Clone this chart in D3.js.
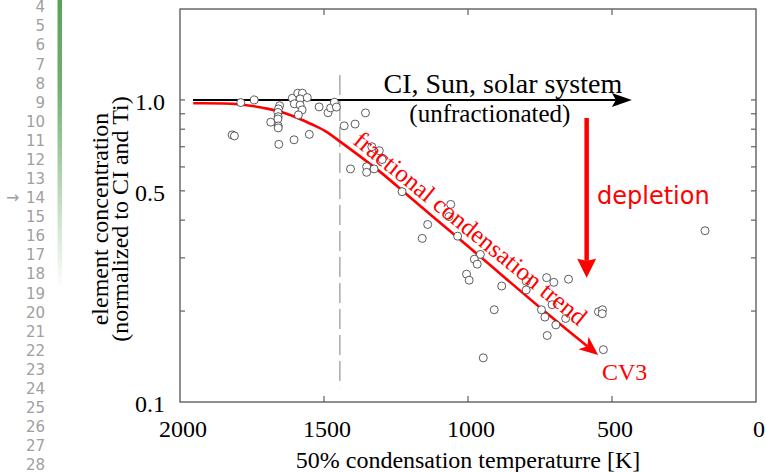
<!DOCTYPE html>
<meta charset="utf-8">
<style>
body { margin: 0; background: #fff; }
svg { display: block; }
.serif { font-family: "Liberation Serif", "Times New Roman", serif; }
.gutter { font-family: "DejaVu Sans", sans-serif; font-size: 15px; fill: #a0a0a0; }
</style>
<body>
<script src="https://cdn.jsdelivr.net/npm/d3@7/dist/d3.min.js"></script>
<script>

// element data: 50% condensation temperature [K] and concentration (normalized to CI and Ti)
var tempK = [1819, 1811, 1789, 1742, 1654, 1658, 1660, 1659, 1660, 1659, 1659, 1657, 1685,
             1604, 1551, 1610, 1591, 1575, 1583, 1558, 1603, 1583, 1576, 1589, 1517, 1486,
             1477, 1464, 1457, 1430, 1392, 1356, 1408, 1352, 1352, 1326, 1334, 1308, 1298,
             1229, 1060, 1066, 1140, 1159, 1036, 957, 978, 968, 1005, 996, 883, 909, 947,
             798, 798, 727, 702, 651, 745, 733, 708, 695, 661, 725, 547, 533, 534, 530, 177];
var conc  = [0.766, 0.760, 0.980, 1.00, 0.957, 0.934, 0.909, 0.880, 0.865, 0.820, 0.808, 0.713, 0.844,
             0.738, 0.769, 1.013, 1.053, 1.053, 1.008, 1.018, 0.971, 0.962, 0.927, 0.892, 0.948, 0.907,
             0.941, 0.983, 0.947, 0.821, 0.832, 0.906, 0.591, 0.601, 0.576, 0.591, 0.700, 0.679, 0.635,
             0.497, 0.451, 0.411, 0.387, 0.348, 0.354, 0.308, 0.297, 0.286, 0.265, 0.253, 0.242, 0.202, 0.140,
             0.251, 0.235, 0.258, 0.249, 0.255, 0.202, 0.191, 0.210, 0.180, 0.189, 0.166, 0.199, 0.202, 0.196, 0.149, 0.369];

// fractional condensation trend
var trendT = [1954, 1798, 1693, 1635, 1589, 1543, 1497, 1444, 1306, 1190, 1074, 958, 727, 548];
var trendC = [0.975, 0.968, 0.934, 0.904, 0.870, 0.831, 0.790, 0.728, 0.579, 0.466, 0.376, 0.303, 0.197, 0.143];

// unfractionated reference (CI, Sun) and depletion arrow
var refT = [1955, 431];
var refC = [1.0, 1.0];
var deplT = [588, 588];
var deplC = [0.872, 0.258];
var dashT = [1445, 1445];
var dashC = [1.21, 0.112];

var xTicks = [2000, 1500, 1000, 500, 0];
var yLabels = [1.0, 0.5, 0.1];
var yMinor = [0.2, 0.3, 0.4, 0.5, 0.6, 0.7, 0.8, 0.9, 1.0];
var lineNumbers = [4, 5, 6, 7, 8, 9, 10, 11, 12, 13, 14, 15, 16, 17, 18, 19, 20, 21, 22, 23, 24, 25, 26, 27, 28];

var W = 765, H = 472;
var svg = d3.select("body").append("svg")
    .attr("width", W)
    .attr("height", H);

// ---- editor gutter on the left ----
var grad = svg.append("defs").append("linearGradient")
    .attr("id", "gbar").attr("x1", 0).attr("y1", 0).attr("x2", 0).attr("y2", 1);
grad.append("stop").attr("offset", 0).attr("stop-color", "#57a257").attr("stop-opacity", 1);
grad.append("stop").attr("offset", 0.3).attr("stop-color", "#57a257").attr("stop-opacity", 0.85);
grad.append("stop").attr("offset", 1).attr("stop-color", "#57a257").attr("stop-opacity", 0);
svg.append("rect").attr("x", 57.5).attr("y", 0).attr("width", 4.5).attr("height", 290)
    .attr("fill", "url(#gbar)");

var gy = d3.scaleLinear().domain([4, 28]).range([7, 465]);
svg.append("g").selectAll("text")
    .data(lineNumbers)
  .enter().append("text")
    .attr("class", "gutter")
    .attr("x", 45)
    .attr("y", function(d) { return gy(d); })
    .attr("dy", "0.35em")
    .attr("text-anchor", "end")
    .text(function(d) { return d; });
svg.append("text").attr("class", "gutter")
    .attr("x", 6).attr("y", gy(14)).attr("dy", "0.35em")
    .style("font-size", "16px")
    .text("\u2192");

// ---- plot ----
var x = d3.scaleLinear().domain([2000, 0]).range([180, 756]);
var y = d3.scaleLog().domain([0.1, 2]).range([402, 9]);

var frame = "#606060";

// dashed marker line
svg.append("line")
    .attr("x1", x(dashT[0])).attr("x2", x(dashT[1]))
    .attr("y1", y(dashC[0])).attr("y2", y(dashC[1]))
    .attr("stroke", "#aaaaaa").attr("stroke-width", 1.5)
    .attr("stroke-dasharray", "20,6");

function arrowHead(tip, from, len, half, notch) {
  var dx = tip[0] - from[0], dy = tip[1] - from[1];
  var n = Math.sqrt(dx * dx + dy * dy);
  var ux = dx / n, uy = dy / n, px = -uy, py = ux;
  var bx = tip[0] - len * ux, by = tip[1] - len * uy;
  return [[tip[0], tip[1]],
          [bx + half * px, by + half * py],
          [tip[0] - (len - notch) * ux, tip[1] - (len - notch) * uy],
          [bx - half * px, by - half * py]];
}
function drawArrow(pts, color, width, len, half, notch, curve) {
  var tip = pts[pts.length - 1], prev = pts[pts.length - 2];
  var head = arrowHead(tip, prev, len, half, notch);
  var body = pts.slice(0, -1).concat([head[2]]);
  svg.append("path")
      .attr("d", d3.line().curve(curve || d3.curveLinear)(body))
      .attr("fill", "none")
      .attr("stroke", color)
      .attr("stroke-width", width);
  svg.append("path")
      .attr("d", "M" + head.join("L") + "Z")
      .attr("fill", color);
}

// CI / Sun reference arrow
drawArrow(refT.map(function(t, i) { return [x(t), y(refC[i])]; }), "#000", 2, 20, 7, 4);

// fractional condensation trend
drawArrow(trendT.map(function(t, i) { return [x(t), y(trendC[i])]; }), "#ff0000", 2.6, 19, 8, 5, d3.curveCatmullRom);

// depletion arrow
drawArrow(deplT.map(function(t, i) { return [x(t), y(deplC[i])]; }), "#ff0000", 4.5, 19, 9.5, 2);

// data points
svg.append("g").selectAll("circle")
    .data(tempK)
  .enter().append("circle")
    .attr("cx", function(d) { return x(d); })
    .attr("cy", function(d, i) { return y(conc[i]); })
    .attr("r", 4)
    .attr("fill", "#fff")
    .attr("stroke", "#333")
    .attr("stroke-width", 0.8);

// frame and inward ticks
svg.append("rect")
    .attr("x", x(2000)).attr("y", y(2))
    .attr("width", x(0) - x(2000)).attr("height", y(0.1) - y(2))
    .attr("fill", "none").attr("stroke", frame).attr("stroke-width", 1.4);

var ticks = svg.append("g").attr("stroke", frame).attr("stroke-width", 1.2);
xTicks.slice(1, -1).forEach(function(t) {
  ticks.append("line").attr("x1", x(t)).attr("x2", x(t)).attr("y1", y(0.1)).attr("y2", y(0.1) - 6);
  ticks.append("line").attr("x1", x(t)).attr("x2", x(t)).attr("y1", y(2)).attr("y2", y(2) + 6);
});
yMinor.forEach(function(v) {
  ticks.append("line").attr("x1", x(2000)).attr("x2", x(2000) + 5).attr("y1", y(v)).attr("y2", y(v));
  ticks.append("line").attr("x1", x(0)).attr("x2", x(0) - 5).attr("y1", y(v)).attr("y2", y(v));
});

// tick labels
svg.append("g").selectAll("text")
    .data(xTicks)
  .enter().append("text")
    .attr("class", "serif")
    .attr("x", function(d) { return x(d) + 3; })
    .attr("y", 437)
    .attr("text-anchor", "middle")
    .attr("font-size", 24)
    .text(function(d) { return d; });

svg.append("g").selectAll("text")
    .data(yLabels)
  .enter().append("text")
    .attr("class", "serif")
    .attr("x", 165)
    .attr("y", function(d) { return y(d) + 2; })
    .attr("dy", "0.35em")
    .attr("text-anchor", "end")
    .attr("font-size", 24)
    .text(function(d) { return d.toFixed(1); });

// axis titles
svg.append("text")
    .attr("class", "serif")
    .attr("x", (x(2000) + x(0)) / 2)
    .attr("y", 468)
    .attr("text-anchor", "middle")
    .attr("font-size", 24)
    .text("50% condensation temperaturre [K]");

var yt = svg.append("text")
    .attr("class", "serif")
    .attr("transform", "translate(107.5,219)rotate(-90)")
    .attr("text-anchor", "middle")
    .attr("font-size", 24);
yt.append("tspan").attr("x", 0).attr("y", 0).text("element concentration");
yt.append("tspan").attr("x", 0).attr("y", 20).text("(normalized to CI and Ti)");

// annotations
svg.append("text").attr("class", "serif")
    .attr("x", x(879)).attr("y", y(1.055))
    .attr("text-anchor", "middle").attr("font-size", 28)
    .text("CI, Sun, solar system");
svg.append("text").attr("class", "serif")
    .attr("x", x(924)).attr("y", y(0.846))
    .attr("text-anchor", "middle").attr("font-size", 25)
    .text("(unfractionated)");

svg.append("text").attr("class", "serif")
    .attr("transform", "translate(" + x(1403) + "," + y(0.720) + ")rotate(39)")
    .attr("fill", "#ff0000").attr("font-size", 25)
    .text("fractional condensation trend");

svg.append("text")
    .attr("x", x(552)).attr("y", y(0.452))
    .attr("fill", "#ff0000")
    .attr("font-family", "'Comic Sans MS', 'DejaVu Sans', sans-serif")
    .attr("font-size", 24)
    .text("depletion");

svg.append("text").attr("class", "serif")
    .attr("x", x(535)).attr("y", y(0.118))
    .attr("fill", "#ff0000").attr("font-size", 24)
    .text("CV3");

</script>
</body>
